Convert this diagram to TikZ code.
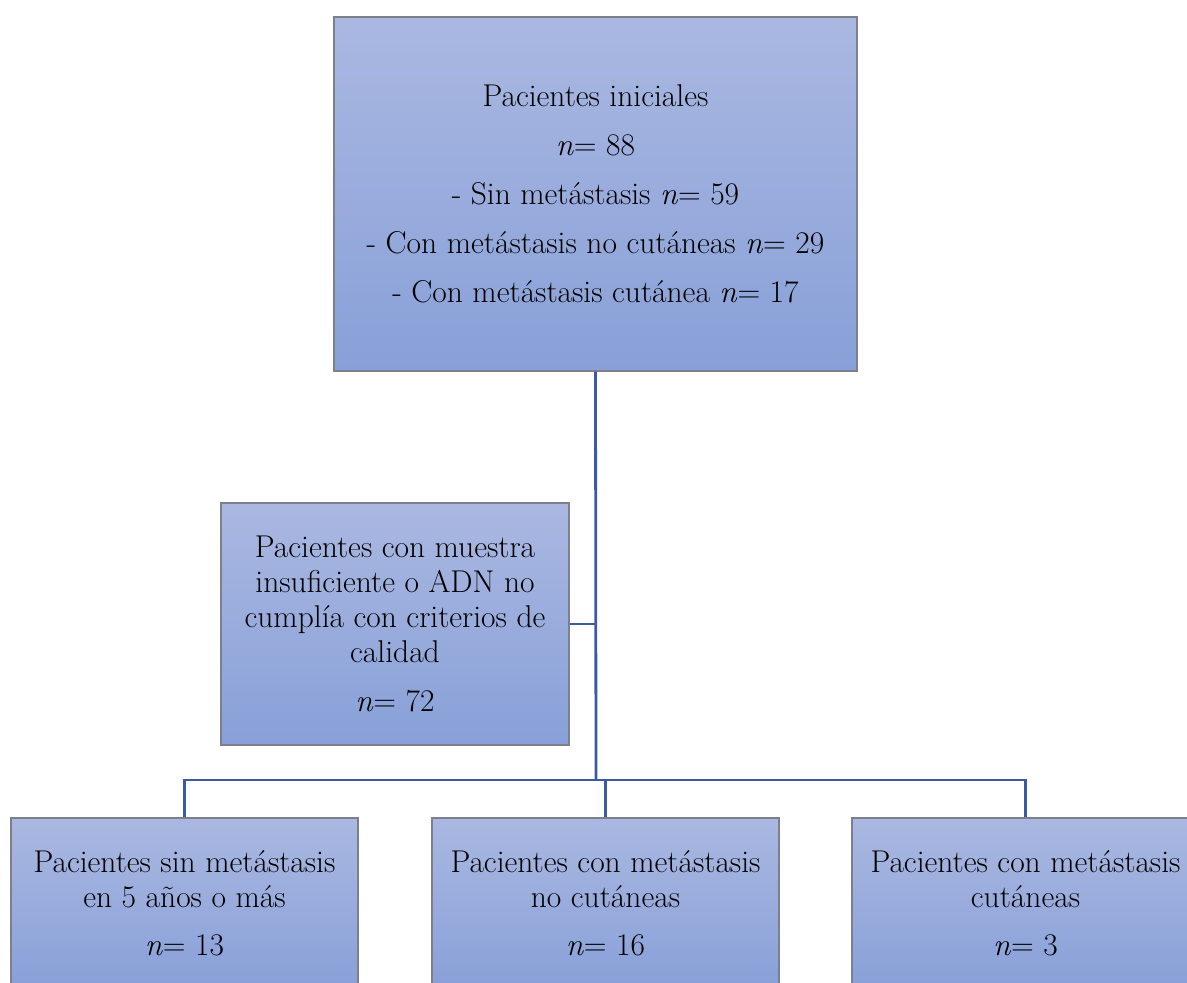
\documentclass[tikz,border=0pt]{standalone}
\definecolor{boxtop}{RGB}{170,184,225}
\definecolor{boxbot}{RGB}{136,160,216}
\definecolor{boxline}{RGB}{125,128,140}
\definecolor{conn}{RGB}{58,91,164}
\tikzset{
  flowbox/.style={rectangle, draw=boxline, line width=1.2pt, top color=boxtop, bottom color=boxbot,
    align=center, inner sep=0pt, font=\fontsize{31.5}{35}\selectfont},
  link/.style={draw=conn, line width=2.8pt}
}
\begin{document}
\begin{tikzpicture}[x=1pt,y=1pt]
\useasboundingbox (0,0) rectangle (1187,983);
\clip (0,0) rectangle (1187,983);
\fill[white] (0,0) rectangle (1187,983);
\node[flowbox, minimum width=523pt, minimum height=354pt] (top) at (595.5,789)
  {Pacientes iniciales\\[14pt] \textit{n}= 88\\[14pt] - Sin metástasis \textit{n}= 59\\[14pt]
   - Con metástasis no cutáneas \textit{n}= 29\\[14pt] - Con metástasis cutánea \textit{n}= 17};
\node[flowbox, minimum width=348pt, minimum height=242pt] (mid) at (395,359)
  {Pacientes con muestra\\ insuficiente o ADN no\\ cumplía con criterios de\\ calidad\\[14pt] \textit{n}= 72};
\node[flowbox, minimum width=347pt, minimum height=170pt] (b1) at (184.5,80)
  {Pacientes sin metástasis\\ en 5 años o más\\[13pt] \textit{n}= 13};
\node[flowbox, minimum width=347pt, minimum height=170pt] (b2) at (605.5,80)
  {Pacientes con metástasis\\ no cutáneas\\[13pt] \textit{n}= 16};
\node[flowbox, minimum width=347pt, minimum height=170pt] (b3) at (1025.5,80)
  {Pacientes con metástasis\\ cutáneas\\[13pt] \textit{n}= 3};
\coordinate (busC) at (596,203);
\draw[link] (top.south) -- (busC);
\draw[link] (mid.east) -- (mid.east -| busC);
\draw[link] (b1.north) -- (b1.north |- busC) -- (b3.north |- busC) -- (b3.north);
\draw[link] (b2.north) -- (b2.north |- busC);
\end{tikzpicture}
\end{document}
